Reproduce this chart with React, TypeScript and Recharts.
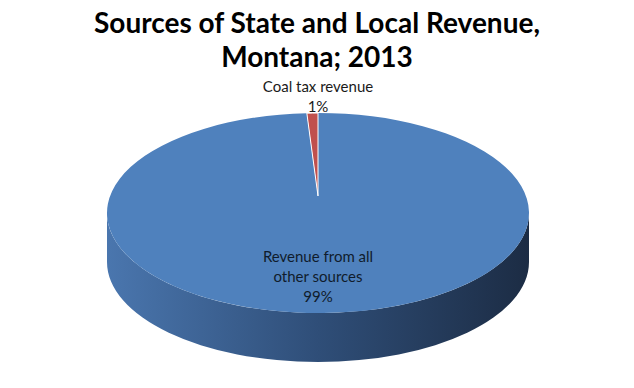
import React from 'react';
import { PieChart, Pie, Cell } from 'recharts';

// slice data, clockwise from 12 o'clock
const sliceNames = ['Revenue from all other sources', 'Coal tax revenue'];
const sliceValues = [99, 1];
const sliceLabels = [['Revenue from all', 'other sources', '99%'], ['Coal tax revenue', '1%']];
const sliceColors = ['#4f81bd', '#c0504d'];
const titleLines = ['Sources of State and Local Revenue,', 'Montana; 2013'];

const TILT = 0.474; // vertical squash of the pie top
const DEPTH = 49; // thickness of the 3d side
const PERSP = 0.17; // perspective: how far the centre sits toward the back
const FONT = 'Lato, "Open Sans", sans-serif';

const rad = (a: number) => (a * Math.PI) / 180;
const deg = (r: number) => (r * 180) / Math.PI;

// map a pie angle to the ellipse angle under a simple perspective
const persp = (a: number) => {
  const s = Math.sin(rad(a));
  const c = Math.cos(rad(a));
  const d = 1 + PERSP * s;
  const t = deg(Math.atan2((s + PERSP) / d, (c * Math.sqrt(1 - PERSP * PERSP)) / d));
  let diff = (t - a) % 360;
  if (diff > 180) diff -= 360;
  if (diff < -180) diff += 360;
  return a + diff;
};

// elliptical sector + visible side wall
const Slice3D = (props: any) => {
  const { cx, cy, outerRadius, startAngle, endAngle, fill, index, stroke } = props;
  const rx = outerRadius;
  const ry = outerRadius * TILT;
  const pt = (t: number, dy = 0) => [cx + rx * Math.cos(rad(t)), cy - ry * Math.sin(rad(t)) + dy];
  const hi = persp(Math.max(startAngle, endAngle));
  const lo = persp(Math.min(startAngle, endAngle));

  const sides: string[] = [];
  [-720, -360, 0, 360].forEach((k) => {
    const s = Math.min(hi, 360 + k);
    const e = Math.max(lo, 180 + k);
    if (s > e) {
      const [x1, y1] = pt(s);
      const [x2, y2] = pt(e);
      const [x3, y3] = pt(e, DEPTH);
      const [x4, y4] = pt(s, DEPTH);
      sides.push(`M${x1},${y1} A${rx},${ry} 0 0 1 ${x2},${y2} L${x3},${y3} A${rx},${ry} 0 0 0 ${x4},${y4} Z`);
    }
  });

  const [sx, sy] = pt(hi);
  const [ex, ey] = pt(lo);
  const large = hi - lo > 180 ? 1 : 0;
  const vy = cy - ry * PERSP;
  const top = `M${cx},${vy} L${sx},${sy} A${rx},${ry} 0 ${large} 1 ${ex},${ey} Z`;
  const gid = `side-grad-${index}`;

  return (
    <g>
      <defs>
        <linearGradient id={gid} gradientUnits="userSpaceOnUse" x1={cx - rx} y1={0} x2={cx + rx} y2={0}>
          <stop offset="0%" stopColor="#4a76ae" />
          <stop offset="50%" stopColor="#2f4e78" />
          <stop offset="100%" stopColor="#1c2c44" />
        </linearGradient>
      </defs>
      {sides.map((d, i) => (
        <path key={i} d={d} fill={`url(#${gid})`} />
      ))}
      <path d={top} fill={fill} stroke={stroke} strokeWidth={stroke ? 1 : 0} />
    </g>
  );
};

const renderLabel = (p: any) => {
  const { cx, cy, outerRadius, index } = p;
  const ry = outerRadius * TILT;
  const lines = sliceLabels[index];
  const y0 = index === 1 ? cy - ry - 21 : cy + ry * 0.49;
  return (
    <text x={cx} y={y0} textAnchor="middle" fontFamily={FONT} fontSize={15} fill={index === 1 ? '#1a1a1a' : '#101c2c'}>
      {lines.map((l, i) => (
        <tspan key={i} x={cx} dy={i === 0 ? 0 : 20}>
          {l}
        </tspan>
      ))}
    </text>
  );
};

export default function App() {
  const data = sliceNames.map((name, i) => ({ name, value: sliceValues[i] }));
  const pieProps: any = {
    shape: Slice3D,
    activeShape: Slice3D,
    inactiveShape: Slice3D,
  };
  return (
    <div style={{ position: 'absolute', left: 0, top: 0, width: 634, height: 388, background: '#fff' }}>
      <PieChart width={634} height={388} margin={{ top: 0, right: 0, bottom: 0, left: 0 }}>
        <Pie
          data={data}
          dataKey="value"
          nameKey="name"
          cx={318}
          cy={213}
          outerRadius={211}
          startAngle={90}
          endAngle={-270}
          label={renderLabel}
          labelLine={false}
          {...pieProps}
          isAnimationActive={false}
        >
          {data.map((d, i) => (
            <Cell key={d.name} fill={sliceColors[i]} stroke={i === 1 ? '#ffffff' : undefined} />
          ))}
        </Pie>
      </PieChart>
      <div
        style={{
          position: 'absolute',
          left: 0,
          top: 5,
          width: 634,
          textAlign: 'center',
          fontFamily: FONT,
          fontWeight: 700,
          fontSize: 28,
          lineHeight: '34px',
          color: '#000',
        }}
      >
        {titleLines.map((t) => (
          <div key={t}>{t}</div>
        ))}
      </div>
    </div>
  );
}
